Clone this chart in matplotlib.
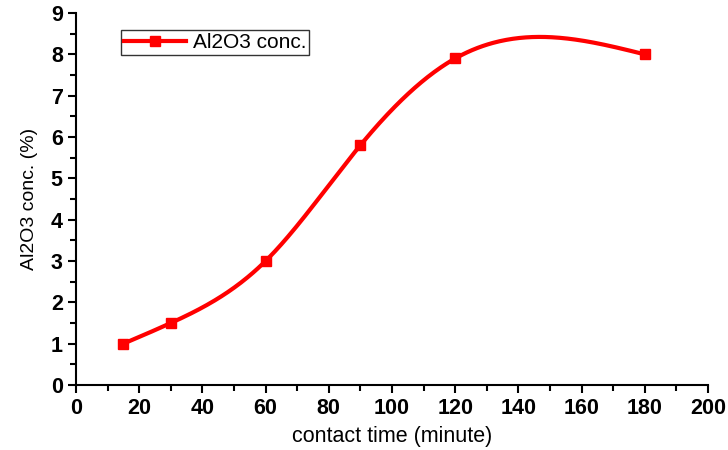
import numpy as np
import matplotlib
matplotlib.use("Agg")
import matplotlib.pyplot as plt

# data
contact_time = [15, 30, 60, 90, 120, 180]
al2o3_conc = [1.0, 1.5, 3.0, 5.8, 7.9, 8.0]


# natural cubic spline (Origin style smoothed line through the points)
def natural_spline(x, y, xs):
    x = np.asarray(x, float)
    y = np.asarray(y, float)
    n = len(x)
    h = np.diff(x)
    A = np.zeros((n, n))
    b = np.zeros(n)
    A[0, 0] = A[-1, -1] = 1
    for i in range(1, n - 1):
        A[i, i - 1] = h[i - 1]
        A[i, i] = 2 * (h[i - 1] + h[i])
        A[i, i + 1] = h[i]
        b[i] = 6 * ((y[i + 1] - y[i]) / h[i] - (y[i] - y[i - 1]) / h[i - 1])
    M = np.linalg.solve(A, b)
    ys = np.empty_like(xs)
    for k, xv in enumerate(xs):
        i = min(np.searchsorted(x, xv) - 1, n - 2)
        i = max(i, 0)
        t1 = x[i + 1] - xv
        t0 = xv - x[i]
        ys[k] = (M[i] * t1**3 + M[i + 1] * t0**3) / (6 * h[i]) \
            + (y[i] / h[i] - M[i] * h[i] / 6) * t1 \
            + (y[i + 1] / h[i] - M[i + 1] * h[i] / 6) * t0
    return ys


xs = np.linspace(contact_time[0], contact_time[-1], 400)
ys = natural_spline(contact_time, al2o3_conc, xs)

plt.rcParams['font.family'] = ['Liberation Sans', 'DejaVu Sans']

fig = plt.figure(figsize=(7.28, 4.5), dpi=100)
ax = fig.add_axes([0.1044, 0.1444, 0.868, 0.8267])

red = '#ff0000'
ax.plot(xs, ys, color=red, lw=3, solid_capstyle='round')
ax.plot(contact_time, al2o3_conc, ls='none', marker='s', ms=7, color=red)
# legend proxy (line + marker)
ax.plot([], [], color=red, lw=3, marker='s', ms=7, label='Al2O3 conc.')

ax.set_xlim(0, 200)
ax.set_ylim(0, 9)
ax.set_xticks(np.arange(0, 201, 20))
ax.set_xticks(np.arange(10, 200, 20), minor=True)
ax.set_yticks(np.arange(0, 10, 1))
ax.set_yticks(np.arange(0.5, 9, 1), minor=True)

for s in ['top', 'right']:
    ax.spines[s].set_visible(False)
for s in ['left', 'bottom']:
    ax.spines[s].set_linewidth(1.5)

ax.tick_params(which='major', direction='out', length=6, width=1.5, labelsize=15.5)
ax.tick_params(which='minor', direction='out', length=4, width=1.5)
for lbl in ax.get_xticklabels() + ax.get_yticklabels():
    lbl.set_fontweight('bold')

ax.set_xlabel('contact time (minute)', fontsize=15.5, labelpad=5)
ax.set_ylabel('Al2O3 conc. (%)', fontsize=14, labelpad=9)

leg = ax.legend(loc='upper left', bbox_to_anchor=(0.071, 0.954), fontsize=15,
                frameon=True, fancybox=False, edgecolor='black',
                handlelength=3.0, handletextpad=0.3, borderpad=0.15,
                borderaxespad=0)
leg.get_frame().set_linewidth(1)

fig.savefig('out.png', dpi=100)
